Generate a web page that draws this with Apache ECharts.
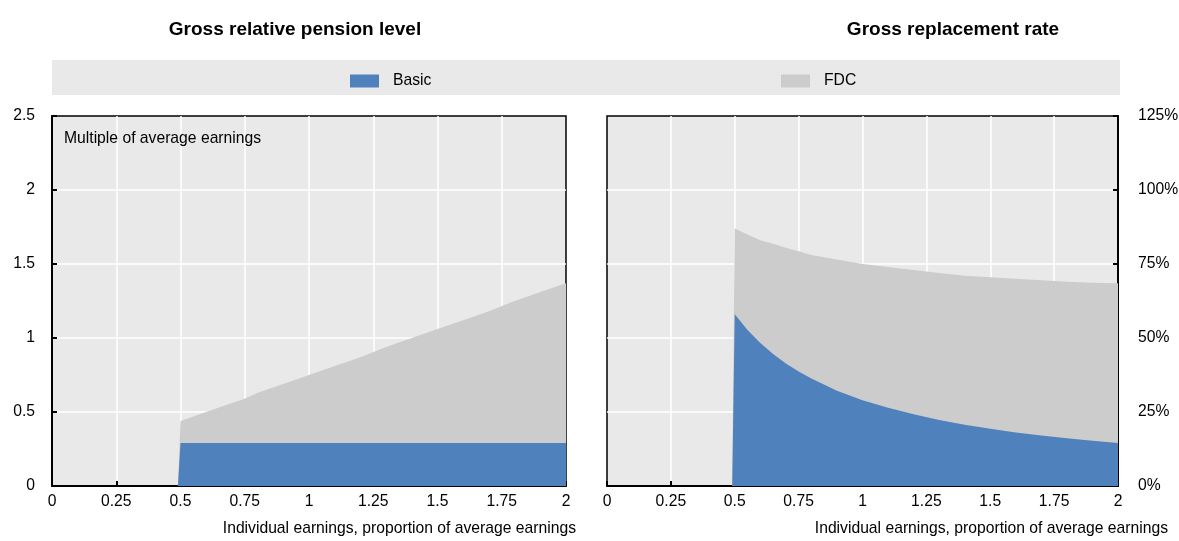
<!DOCTYPE html>
<html>
<head>
<meta charset="utf-8">
<script src="https://cdn.jsdelivr.net/npm/echarts@6/dist/echarts.min.js"></script>
<style>
html,body{margin:0;padding:0;background:#fff;}
#chart{width:1179px;height:541px;}
</style>
</head>
<body>
<div id="chart"></div>
<script>
// ---- Data ----
const earnings = [0, 0.49, 0.5, 0.55, 0.6, 0.65, 0.7, 0.75, 0.8, 0.9, 1.0, 1.1, 1.2, 1.3, 1.4, 1.5, 1.6, 1.7, 1.8, 1.9, 2.0];
// Gross relative pension level (multiple of average earnings)
const levelBasic = [0, 0, 0.29, 0.29, 0.29, 0.29, 0.29, 0.29, 0.29, 0.29, 0.29, 0.29, 0.29, 0.29, 0.29, 0.29, 0.29, 0.29, 0.29, 0.29, 0.29];
const levelFDC   = [0, 0, 0.15, 0.18, 0.21, 0.24, 0.27, 0.30, 0.34, 0.40, 0.46, 0.52, 0.58, 0.65, 0.71, 0.77, 0.83, 0.89, 0.96, 1.02, 1.08];
// Gross replacement rate (%)
const rateBasic = [0, 0, 58, 52.7, 48.3, 44.6, 41.4, 38.7, 36.3, 32.2, 29.0, 26.4, 24.2, 22.3, 20.7, 19.3, 18.1, 17.1, 16.1, 15.3, 14.5];
const rateFDC   = [0, 0, 29, 32.3, 34.7, 37.2, 39.1, 40.6, 41.7, 44.3, 46.0, 47.6, 48.8, 49.7, 50.3, 51.2, 51.9, 52.4, 52.9, 53.4, 54.0];
const xTicks = ['0', '0.25', '0.5', '0.75', '1', '1.25', '1.5', '1.75', '2'];
const seriesNames = ['Basic', 'FDC'];
const titles = ['Gross relative pension level', 'Gross replacement rate'];
const xName = 'Individual earnings, proportion of average earnings';
const yNote = 'Multiple of average earnings';

const BLUE = '#4f81bd', GREY = '#cccccc', BG = '#e9e9e9';
const FONT = 'Arial, "Liberation Sans", sans-serif';
const FS = 15.7;

// stacked top = basic + FDC (drawn behind basic)
const levelTotal = levelBasic.map((v,i)=>+(v + levelFDC[i]).toFixed(3));
const rateTotal = rateBasic.map((v,i)=>+(v + rateFDC[i]).toFixed(3));
function pairs(ys){ return earnings.map((x,i)=>[x, ys[i]]); }

const chart = echarts.init(document.getElementById('chart'), null, {renderer:'canvas'});

function xAxisCfg(gi){
  return {
    type:'value', gridIndex:gi, min:0, max:2, interval:0.25,
    axisLine:{show:true, onZero:false, lineStyle:{color:'#000', width:2}},
    axisTick:{show:true, inside:true, length:5, lineStyle:{color:'#000', width:2}},
    axisLabel:{color:'#000', fontSize:FS, fontFamily:FONT, margin:8,
      formatter:(v)=>xTicks[Math.round(v/0.25)]},
    splitLine:{show:true, showMinLine:false, showMaxLine:false, lineStyle:{color:'#fff', width:1.5}}
  };
}

function area(name, color, xi, ys, z){
  return {
    name, type:'line', xAxisIndex:xi, yAxisIndex:xi, z,
    data:pairs(ys), symbol:'none', showSymbol:false,
    lineStyle:{width:0}, areaStyle:{color, opacity:1}, itemStyle:{color},
    silent:true, animation:false
  };
}

const option = {
  animation:false,
  textStyle:{fontFamily:FONT},
  grid:[
    {left:52, right:1179-566, top:116, bottom:541-486, outerBoundsMode:'none', containLabel:false, show:true, backgroundColor:BG, borderColor:'#000', borderWidth:1.5},
    {left:607, right:1179-1118, top:116, bottom:541-486, outerBoundsMode:'none', containLabel:false, show:true, backgroundColor:BG, borderColor:'#000', borderWidth:1.5}
  ],
  legend:[
    {data:[seriesNames[0]], left:350, top:73, padding:0, icon:'rect', itemWidth:29, itemHeight:13, itemGap:0,
     textStyle:{color:'#000', fontSize:FS, fontFamily:FONT, padding:[0,0,0,9]}, selectedMode:false},
    {data:[seriesNames[1]], left:781, top:73, padding:0, icon:'rect', itemWidth:29, itemHeight:13, itemGap:0,
     textStyle:{color:'#000', fontSize:FS, fontFamily:FONT, padding:[0,0,0,9]}, selectedMode:false}
  ],
  xAxis:[xAxisCfg(0), xAxisCfg(1)],
  yAxis:[
    {type:'value', gridIndex:0, min:0, max:2.5, interval:0.5, position:'left',
     axisLine:{show:true, onZero:false, lineStyle:{color:'#000', width:2}},
     axisTick:{show:true, inside:true, length:5, lineStyle:{color:'#000', width:2}},
     axisLabel:{color:'#000', fontSize:FS, fontFamily:FONT, margin:17},
     splitLine:{show:true, showMinLine:false, showMaxLine:false, lineStyle:{color:'#fff', width:1.5}}},
    {type:'value', gridIndex:1, min:0, max:125, interval:25, position:'right',
     axisLine:{show:true, onZero:false, lineStyle:{color:'#000', width:2}},
     axisTick:{show:true, inside:true, length:5, lineStyle:{color:'#000', width:2}},
     axisLabel:{color:'#000', fontSize:FS, fontFamily:FONT, margin:20, formatter:'{value}%'},
     splitLine:{show:true, showMinLine:false, showMaxLine:false, lineStyle:{color:'#fff', width:1.5}}}
  ],
  graphic:[
    {type:'rect', shape:{x:52, y:60, width:1068, height:35}, style:{fill:BG}, z:-10, silent:true},
    {type:'text', x:295, y:30, style:{text:titles[0], font:'bold 19px '+FONT, fill:'#000', align:'center', verticalAlign:'middle'}},
    {type:'text', x:953, y:30, style:{text:titles[1], font:'bold 19px '+FONT, fill:'#000', align:'center', verticalAlign:'middle'}},
    {type:'text', x:64, y:139, z:10, style:{text:yNote, font:FS+'px '+FONT, fill:'#000', align:'left', verticalAlign:'middle'}},
    {type:'text', x:576, y:529, style:{text:xName, font:FS+'px '+FONT, fill:'#000', align:'right', verticalAlign:'middle'}},
    {type:'text', x:1168, y:529, style:{text:xName, font:FS+'px '+FONT, fill:'#000', align:'right', verticalAlign:'middle'}}
  ],
  series:[
    area(seriesNames[1], GREY, 0, levelTotal, 2),
    area(seriesNames[0], BLUE, 0, levelBasic, 3),
    area(seriesNames[1], GREY, 1, rateTotal, 2),
    area(seriesNames[0], BLUE, 1, rateBasic, 3)
  ]
};
chart.setOption(option);
</script>
</body>
</html>
